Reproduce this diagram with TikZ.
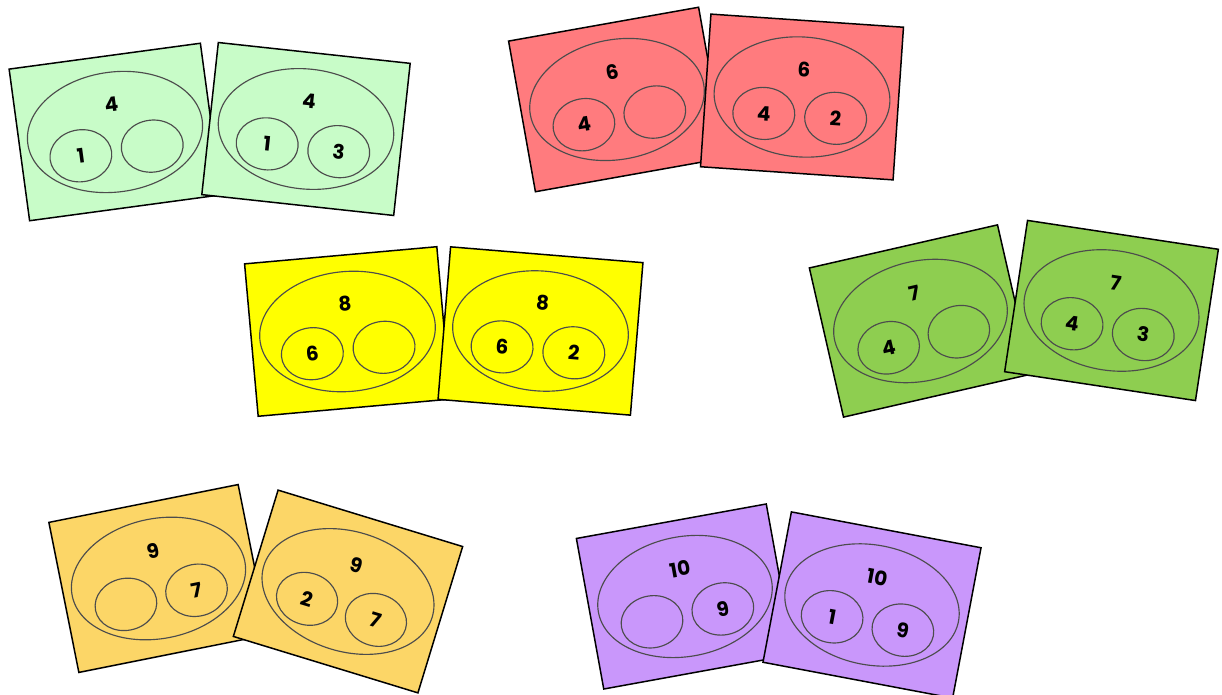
\documentclass[tikz,border=0pt]{standalone}
\usepackage{fontspec}
\setmainfont{Poppins}
\usetikzlibrary{shapes.geometric}
\definecolor{cgreen}{HTML}{C8FCC8}
\definecolor{cred}{HTML}{FF7B7E}
\definecolor{cyellow}{HTML}{FFFF00}
\definecolor{cdgreen}{HTML}{8ECE50}
\definecolor{corange}{HTML}{FCD667}
\definecolor{cpurple}{HTML}{C997FB}
\tikzset{
  cardbox/.style={draw=black, line width=1.5pt, minimum width=193pt, minimum height=153pt, inner sep=0pt, transform shape},
  ring/.style={draw=black!70, line width=1.15pt, ellipse, inner sep=0pt, transform shape},
  bigring/.style={ring, minimum width=176pt, minimum height=120pt},
  smallring/.style={ring, minimum width=62pt, minimum height=52pt},
  num/.style={font=\fontsize{20}{22}\selectfont\bfseries, inner sep=0pt, transform shape},
}
\newcommand\mycard[8]{%
  \begin{scope}[shift={(#2,#3)}, rotate=#4]
    \node[cardbox, fill=#5] (#1) at (0,0) {};
    \node[bigring] (#1-big) at (0,0) {};
    \node[smallring] (#1-l) at (-37,-19) {};
    \node[smallring] (#1-r) at (35,-19) {};
    \node[num] (#1-t) at (0,28) {#6};
    \node[num] (#1-lt) at (#1-l.center) {#7};
    \node[num] (#1-rt) at (#1-r.center) {#8};
  \end{scope}}
\begin{document}
\begin{tikzpicture}[x=1pt, y=1pt]
\useasboundingbox (0,0) rectangle (1222,695);
\mycard{c1}{115}{563}{7.7}{cgreen}{4}{1}{}
\mycard{c2}{306}{566}{-6.2}{cgreen}{4}{1}{3}
\mycard{c3}{617}{595.5}{10.1}{cred}{6}{4}{}
\mycard{c4}{802}{598}{-3.9}{cred}{6}{4}{2}
\mycard{c5}{347.5}{363.5}{5.1}{cyellow}{8}{6}{}
\mycard{c6}{540.5}{364}{-4.7}{cyellow}{8}{6}{2}
\mycard{c7}{920.5}{374}{12.9}{cdgreen}{7}{4}{}
\mycard{c8}{1111.5}{384.5}{-8.6}{cdgreen}{7}{4}{3}
\mycard{c9}{158.5}{116.5}{11.3}{corange}{9}{}{7}
\mycard{c10}{348}{103.5}{-17}{corange}{9}{2}{7}
\mycard{c11}{685}{98.5}{10.3}{cpurple}{10}{}{9}
\mycard{c12}{872}{90}{-10.7}{cpurple}{10}{1}{9}
\end{tikzpicture}
\end{document}
